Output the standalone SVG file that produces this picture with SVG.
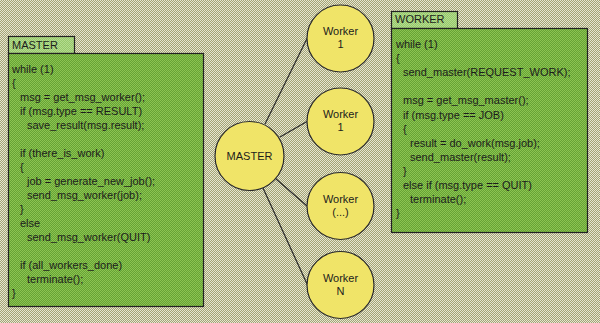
<svg xmlns="http://www.w3.org/2000/svg" width="600" height="323" viewBox="0 0 600 323">
<defs>
<pattern id="bg" patternUnits="userSpaceOnUse" width="2" height="2">
<rect width="2" height="2" fill="#a3a374"/>
<rect x="0" y="0" width="1" height="1" fill="#e6e6d2"/>
<rect x="1" y="1" width="1" height="1" fill="#e6e6d2"/>
</pattern>
<pattern id="gr" patternUnits="userSpaceOnUse" width="2" height="2">
<rect width="2" height="2" fill="#66a334"/>
<rect x="0" y="0" width="1" height="1" fill="#8cc452"/>
<rect x="1" y="1" width="1" height="1" fill="#8cc452"/>
</pattern>
<pattern id="tb" patternUnits="userSpaceOnUse" width="2" height="2">
<rect width="2" height="2" fill="#96c86a"/>
<rect x="0" y="0" width="1" height="1" fill="#b4dc90"/>
<rect x="1" y="1" width="1" height="1" fill="#b4dc90"/>
</pattern>
</defs>
<style>
text{font-family:"Liberation Sans",Arial,sans-serif;font-size:11px;fill:#1c1c1c}
.box{fill:url(#gr);stroke:#222;stroke-width:1.2}
.tab{fill:url(#tb);stroke:#222;stroke-width:1.2}
.node{fill:#f0e468;stroke:#2a2a2a;stroke-width:1.2}
.lbl{text-anchor:middle}
.conn line{stroke:#2a2a2a;stroke-width:1.2}
</style>
<rect width="600" height="323" fill="url(#bg)"/>

<g id="master-code">
<rect class="tab" x="8.5" y="36.5" width="66" height="17"/>
<rect class="box" x="8.5" y="53.5" width="195" height="253"/>
<text x="12" y="48.5">MASTER</text>
<text x="12" y="72.5">while (1)</text>
<text x="12" y="86.5">{</text>
<text x="20" y="100.6">msg = get_msg_worker();</text>
<text x="20" y="114.6">if (msg.type == RESULT)</text>
<text x="27" y="128.7">save_result(msg.result);</text>
<text x="20" y="156.8">if (there_is_work)</text>
<text x="20" y="170.9">{</text>
<text x="27" y="184.9">job = generate_new_job();</text>
<text x="27" y="199">send_msg_worker(job);</text>
<text x="20" y="213">}</text>
<text x="20" y="227.1">else</text>
<text x="27" y="241.1">send_msg_worker(QUIT)</text>
<text x="20" y="269.2">if (all_workers_done)</text>
<text x="27" y="283.3">terminate();</text>
<text x="12" y="297.3">}</text>
</g>

<g id="worker-code">
<rect class="tab" x="391.5" y="11.5" width="66" height="17"/>
<rect class="box" x="391.5" y="28.5" width="196" height="204"/>
<text x="395" y="23">WORKER</text>
<text x="396" y="48">while (1)</text>
<text x="396" y="62.1">{</text>
<text x="403" y="76.2">send_master(REQUEST_WORK);</text>
<text x="403" y="104.4">msg = get_msg_master();</text>
<text x="403" y="118.5">if (msg.type == JOB)</text>
<text x="403" y="132.6">{</text>
<text x="410" y="146.7">result = do_work(msg.job);</text>
<text x="410" y="160.8">send_master(result);</text>
<text x="403" y="174.9">}</text>
<text x="403" y="189">else if (msg.type == QUIT)</text>
<text x="410" y="203.1">terminate();</text>
<text x="396" y="217.2">}</text>
</g>

<g id="connectors" class="conn">
<line x1="265" y1="124" x2="307" y2="38.5"/>
<line x1="280" y1="137" x2="307" y2="121.5"/>
<line x1="275" y1="178" x2="307" y2="206"/>
<line x1="263" y1="188" x2="307.5" y2="285"/>
</g>

<g id="master">
<circle class="node" cx="249.5" cy="156" r="34.5"/>
<text class="lbl" x="249.5" y="160">MASTER</text>
</g>
<g id="worker1a">
<circle class="node" cx="340.5" cy="38.5" r="33.5"/>
<text class="lbl" x="340.5" y="35">Worker</text>
<text class="lbl" x="340.5" y="48">1</text>
</g>
<g id="worker1b">
<circle class="node" cx="340.5" cy="121.5" r="33.5"/>
<text class="lbl" x="340.5" y="118">Worker</text>
<text class="lbl" x="340.5" y="131">1</text>
</g>
<g id="worker-etc">
<circle class="node" cx="340.5" cy="206" r="33.5"/>
<text class="lbl" x="340.5" y="202.5">Worker</text>
<text class="lbl" x="340.5" y="215.5">(...)</text>
</g>
<g id="workerN">
<circle class="node" cx="340.5" cy="285" r="33.5"/>
<text class="lbl" x="340.5" y="281.5">Worker</text>
<text class="lbl" x="340.5" y="294.5">N</text>
</g>
</svg>
